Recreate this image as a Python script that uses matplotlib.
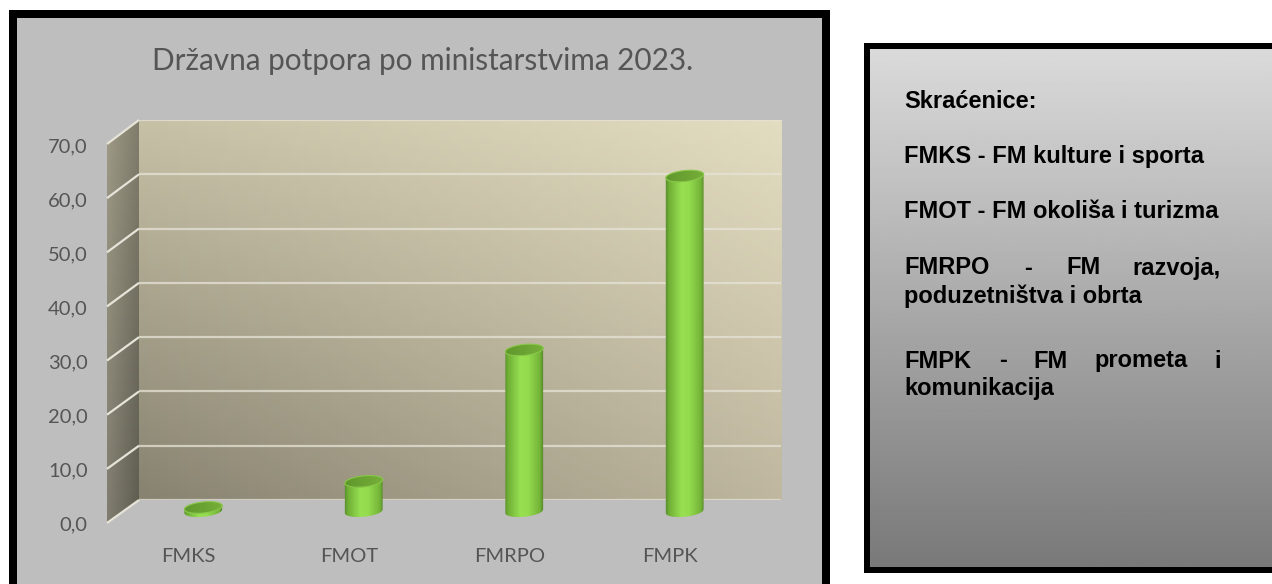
from matplotlib import pyplot as plt
from matplotlib.patches import PathPatch, Polygon, Rectangle
from matplotlib.path import Path
from matplotlib.transforms import IdentityTransform
import numpy as np

categories = ['FMKS', 'FMOT', 'FMRPO', 'FMPK']
values = [0.7, 5.5, 29.7, 61.7]
y_ticks = [0, 10, 20, 30, 40, 50, 60, 70]
y_labels = ['0,0', '10,0', '20,0', '30,0', '40,0', '50,0', '60,0', '70,0']
chart_title = 'Državna potpora po ministarstvima 2023.'

W, H = 1272, 584
TEXT_GREY = '#555555'
GRID = '#e6e4d8'


# axes placed by pixel box, top-left origin like the picture
def add_axes_px(left, top, right, bottom):
    return fig.add_axes([left / W, 1 - bottom / H, (right - left) / W, (bottom - top) / H])


# four corner colours blended over a small image
def corner_gradient(tl, tr, bl, br, n=64):
    u = np.linspace(0, 1, n)[None, :, None]
    v = np.linspace(0, 1, n)[:, None, None]
    tl, tr, bl, br = [np.array(c, dtype=float)[None, None, :] / 255 for c in (tl, tr, bl, br)]
    return (1 - v) * ((1 - u) * tl + u * tr) + v * ((1 - u) * bl + u * br)


# ellipse points in display pixels, tilted a little like the 3D bars
def ellipse_points(cx, cy, a, b, t, tilt=np.radians(6)):
    x = cx + a * np.cos(t) * np.cos(tilt) - b * np.sin(t) * np.sin(tilt)
    y = cy + a * np.cos(t) * np.sin(tilt) + b * np.sin(t) * np.cos(tilt)
    return np.column_stack([x, y])


fig = plt.figure(figsize=(W / 100, H / 100), dpi=100, facecolor='white')

# page level shapes in pixel coordinates
page = fig.add_axes([0, 0, 1, 1])
page.set_xlim(0, W)
page.set_ylim(H, 0)
page.axis('off')
page.add_patch(Rectangle((9, 10), 821, 590, fc='#bebebe', ec='none', zorder=1))
for box in [(9, 10, 8, 590), (822, 10, 8, 590), (9, 10, 821, 8)]:
    page.add_patch(Rectangle(box[:2], box[2], box[3], fc='black', ec='none', zorder=2))
page.text(423, 61, chart_title, family='Lato', fontsize=21.4, color=TEXT_GREY,
          ha='center', va='center', zorder=3)

# side wall of the 3D chart
side_top = 144
side_bottom = 523
wall_top = 120
wall_bottom = 500
side = Polygon([(107, side_top), (139, wall_top), (139, wall_bottom), (107, side_bottom)],
               fc='none', ec='none', transform=page.transData)
page.add_patch(side)
im = page.imshow(corner_gradient((158, 154, 134), (128, 125, 108), (128, 125, 112), (94, 92, 80)),
                 extent=(107, 139, side_bottom, wall_top), aspect='auto', zorder=3)
im.set_clip_path(side)
for tick in y_ticks:
    f = tick / y_ticks[-1]
    page.plot([107, 139],
              [side_bottom + (side_top - side_bottom) * f, wall_bottom + (wall_top - wall_bottom) * f],
              color=GRID, lw=1.6, solid_capstyle='butt', zorder=4)
page.set_xlim(0, W)
page.set_ylim(H, 0)

# back wall with the grid
wall = add_axes_px(139, wall_top, 781, wall_bottom)
wall.imshow(corner_gradient((198, 192, 166), (226, 220, 192), (136, 131, 113), (191, 183, 159)),
            extent=(0, 1, 0, y_ticks[-1]), aspect='auto', zorder=0)
wall.set_yticks(y_ticks)
wall.set_xticks([])
wall.tick_params(left=False, labelleft=False)
wall.grid(axis='y', color=GRID, lw=1.6, alpha=0.75)
wall.set_ylim(0, y_ticks[-1])
for s in wall.spines.values():
    s.set_visible(False)

# front plane only carries the tick labels
front = add_axes_px(92, 145, 766, 523)
front.patch.set_alpha(0)
front.set_xlim(-0.6, 3.6)
front.set_ylim(0, y_ticks[-1])
front.set_yticks(y_ticks, y_labels)
front.set_xticks(range(len(categories)), categories)
front.tick_params(length=0, labelsize=14.5, labelcolor=TEXT_GREY)
front.tick_params(axis='y', pad=3)
front.tick_params(axis='x', pad=18)
for label in front.get_xticklabels() + front.get_yticklabels():
    label.set_family('Lato')
for s in front.spines.values():
    s.set_visible(False)

# cylinders, the axes reaches below zero so the round base is not cut
ax = add_axes_px(107, 131, 781, 533)
ax.patch.set_alpha(0)
ax.axis('off')
ax.set_xlim(-0.6, 3.6)
ax.set_ylim(-4, y_ticks[-1])

body_colors = np.array([[78, 128, 40], [112, 176, 54], [152, 224, 82], [148, 220, 78],
                        [116, 180, 56], [72, 120, 36]], dtype=float) / 255
body_stops = np.linspace(0, 1, 128)
body_img = np.column_stack([np.interp(body_stops, [0, 0.12, 0.42, 0.6, 0.88, 1], body_colors[:, k])
                            for k in range(3)])[None, :, :]
cap_img = np.column_stack([np.interp(body_stops, [0, 1], [c0 / 255, c1 / 255])
                           for c0, c1 in zip((94, 150, 44), (120, 176, 58))])[None, :, :]

half_width = 19
half_height = 5.5
for i, value in enumerate(values):
    cx, base_y = ax.transData.transform((i, 0))
    cx, top_y = ax.transData.transform((i, value))
    lower = np.linspace(np.pi, 2 * np.pi, 40)
    outline = np.vstack([ellipse_points(cx, base_y, half_width, half_height, lower),
                         ellipse_points(cx, top_y, half_width, half_height, lower[::-1])])
    body = PathPatch(Path(np.vstack([outline, outline[:1]]), closed=True),
                     fc='none', ec='none', transform=IdentityTransform())
    ax.add_patch(body)
    body_im = ax.imshow(body_img, extent=(i - 0.13, i + 0.13, -3, value + 2),
                        aspect='auto', zorder=3)
    body_im.set_clip_path(body)

    whole = np.linspace(0, 2 * np.pi, 80)
    cap_pts = ellipse_points(cx, top_y, half_width, half_height, whole)
    cap = PathPatch(Path(np.vstack([cap_pts, cap_pts[:1]]), closed=True),
                    fc='none', ec='none', transform=IdentityTransform())
    ax.add_patch(cap)
    cap_im = ax.imshow(cap_img, extent=(i - 0.13, i + 0.13, value - 2, value + 2),
                       aspect='auto', zorder=4)
    cap_im.set_clip_path(cap)
    ax.plot(cap_pts[:, 0], cap_pts[:, 1], color='#88c848', lw=0.8, zorder=5,
            transform=IdentityTransform(), clip_on=False)
ax.set_xlim(-0.6, 3.6)
ax.set_ylim(-4, y_ticks[-1])

# abbreviation panel on the right, runs off the page edge
panel = add_axes_px(864, 43, W + 10, 573)
panel.set_xlim(864, W + 10)
panel.set_ylim(573, 43)
panel.axis('off')
grad = np.linspace(0, 1, 256)[:, None]
panel.imshow(np.interp(grad, [0, 1], [0.86, 0.47]), cmap='gray', vmin=0, vmax=1,
             extent=(864, W + 10, 573, 43), aspect='auto', zorder=0)
for box in [(864, 43, 6, 530), (864, 43, W, 6), (864, 567, W, 6)]:
    panel.add_patch(Rectangle(box[:2], box[2], box[3], fc='black', ec='none', zorder=1))

note_style = dict(family='Liberation Sans', fontweight='bold', fontsize=17, color='black',
                  va='center', zorder=2)
panel.text(904, 102, 'Skraćenice:', **note_style)
panel.text(904, 157, 'FMKS - FM kulture i sporta', **note_style)
panel.text(904, 212, 'FMOT - FM okoliša i turizma', **note_style)
panel.text(904, 268, 'FMRPO', **note_style)
panel.text(1024, 268, '-', **note_style)
panel.text(1066, 268, 'FM', **note_style)
panel.text(1221, 268, 'razvoja,', ha='right', **note_style)
panel.text(904, 296, 'poduzetništva i obrta', **note_style)
panel.text(904, 361, 'FMPK', **note_style)
panel.text(999, 361, '-', **note_style)
panel.text(1033, 361, 'FM', **note_style)
panel.text(1188, 361, 'prometa', ha='right', **note_style)
panel.text(1221, 361, 'i', ha='right', **note_style)
panel.text(904, 389, 'komunikacija', **note_style)

fig.savefig('out.png', dpi=100)
